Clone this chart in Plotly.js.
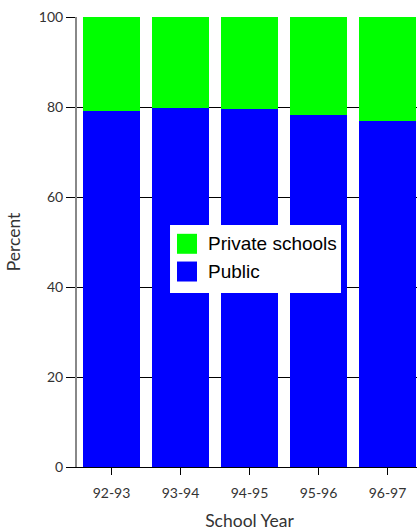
<!DOCTYPE html>
<html>
<head>
<meta charset="utf-8">
<script src="https://cdn.plot.ly/plotly-3.0.1.min.js"></script>
<style>
html, body { margin: 0; padding: 0; overflow: hidden; background: #fff; }
#chart { width: 430px; height: 531px; }
</style>
</head>
<body>
<div id="chart"></div>
<script>
const schoolYears = ["92-93", "93-94", "94-95", "95-96", "96-97"];
const publicPct = [79.2, 79.8, 79.6, 78.2, 77.0];
const privatePct = [20.8, 20.2, 20.4, 21.8, 23.0];
const yTicks = [0, 20, 40, 60, 80, 100];
const seriesNames = ["Public", "Private schools"];
const seriesColors = ["#0000FF", "#00FF00"];

const axisFont = { family: "Lato, 'Open Sans', sans-serif", size: 14, color: "#333" };
const titleFont = { family: "Lato, 'Open Sans', sans-serif", size: 17.5, color: "#333" };
const legendFont = { family: "'Liberation Sans', Arial, sans-serif", size: 19, color: "#000" };

const seriesValues = [publicPct, privatePct];
const traces = seriesValues.map((vals, i) => ({
  type: "bar", name: seriesNames[i], x: schoolYears, y: vals,
  marker: { color: seriesColors[i], line: { width: 0 } },
  showlegend: false
}));

// Legend drawn with paper-referenced shapes and annotations (larger swatches than Plotly's built-in legend)
const legendBox = { x0: 0.2696, x1: 0.7652, y0: 0.3867, y1: 0.5378 };
const swatchX = [0.2899, 0.3478];
const swatchH = 0.0444;
const rowCenters = [0.496, 0.4344]; // top row first
const legendOrder = [1, 0]; // Private schools on top, Public below

const shapes = [{
  type: "rect", xref: "paper", yref: "paper", layer: "above",
  x0: legendBox.x0, x1: legendBox.x1, y0: legendBox.y0, y1: legendBox.y1,
  fillcolor: "#fff", line: { width: 0 }
}];
const annotations = [];
legendOrder.forEach((si, row) => {
  shapes.push({
    type: "rect", xref: "paper", yref: "paper", layer: "above",
    x0: swatchX[0], x1: swatchX[1],
    y0: rowCenters[row] - swatchH / 2, y1: rowCenters[row] + swatchH / 2,
    fillcolor: seriesColors[si], line: { width: 0 }
  });
  annotations.push({
    xref: "paper", yref: "paper", x: 0.373, y: rowCenters[row],
    xanchor: "left", yanchor: "middle", showarrow: false,
    text: seriesNames[si], font: legendFont
  });
});

const layout = {
  width: 430, height: 531,
  margin: { l: 77, r: 8, t: 17, b: 64 },
  barmode: "stack",
  bargap: 0.16,
  paper_bgcolor: "#fff", plot_bgcolor: "#fff",
  showlegend: false,
  shapes: shapes,
  annotations: annotations,
  xaxis: {
    type: "category", range: [-0.5, 4.5],
    ticks: "outside", ticklen: 7, tickcolor: "#000", tickwidth: 1,
    ticklabelstandoff: 6,
    showline: true, linecolor: "#000", linewidth: 1,
    tickfont: axisFont,
    title: { text: "School Year", font: titleFont, standoff: 14 }
  },
  yaxis: {
    range: [0, 100], tickvals: yTicks, ticktext: yTicks.map(String),
    ticks: "outside", ticklen: 9, tickcolor: "#000", tickwidth: 1,
    showline: true, linecolor: "#888", linewidth: 2,
    showgrid: true, gridcolor: "#000", gridwidth: 1,
    zeroline: false,
    tickfont: axisFont,
    title: { text: "Percent", font: titleFont, standoff: 14 }
  }
};

Plotly.newPlot("chart", traces, layout, { displayModeBar: false, staticPlot: true });
</script>
</body>
</html>
